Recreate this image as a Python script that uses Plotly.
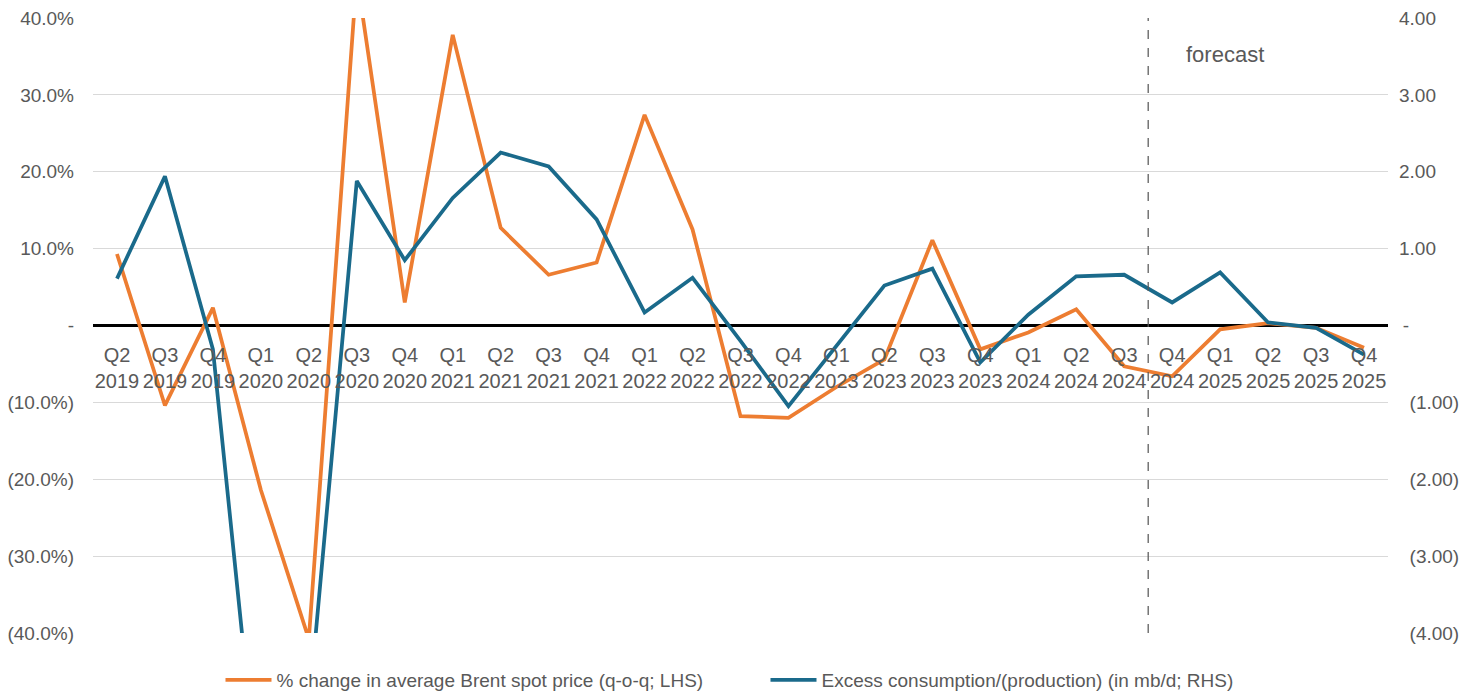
import plotly.graph_objects as go

# Quarters shown on the category axis
quarters = ["Q2", "Q3", "Q4",
            "Q1", "Q2", "Q3", "Q4",
            "Q1", "Q2", "Q3", "Q4",
            "Q1", "Q2", "Q3", "Q4",
            "Q1", "Q2", "Q3", "Q4",
            "Q1", "Q2", "Q3", "Q4",
            "Q1", "Q2", "Q3", "Q4"]
years = [2019, 2019, 2019,
         2020, 2020, 2020, 2020,
         2021, 2021, 2021, 2021,
         2022, 2022, 2022, 2022,
         2023, 2023, 2023, 2023,
         2024, 2024, 2024, 2024,
         2025, 2025, 2025, 2025]
categories = [f"{q} {y}" for q, y in zip(quarters, years)]
tick_labels = [f"{q}<br>{y}" for q, y in zip(quarters, years)]

# % change in average Brent spot price, quarter on quarter (left axis)
brent_pct_change = [9.3, -10.4, 2.3, -21.4, -40.8, 45.5, 3.0, 37.8, 12.7, 6.6,
                    8.2, 27.4, 12.5, -11.8, -12.0, -8.0, -4.4, 11.1, -3.1, -0.9,
                    2.1, -5.3, -6.6, -0.5, 0.3, -0.3, -2.9]

# Excess consumption / (production), mb/d (right axis)
excess_consumption = [0.61, 1.94, -0.31, -6.4, -5.0, 1.88, 0.85, 1.66, 2.25, 2.07,
                      1.38, 0.17, 0.62, -0.20, -1.05, -0.27, 0.52, 0.74, -0.48, 0.14,
                      0.64, 0.66, 0.30, 0.69, 0.04, -0.03, -0.38]

forecast_start = "Q4 2024"

left_ticks = [-40, -30, -20, -10, 0, 10, 20, 30, 40]
left_tick_text = ["(40.0%)", "(30.0%)", "(20.0%)", "(10.0%)", "-",
                  "10.0%", "20.0%", "30.0%", "40.0%"]
right_ticks = [-4, -3, -2, -1, 0, 1, 2, 3, 4]
right_tick_text = ["\u2007(4.00)", "\u2007(3.00)", "\u2007(2.00)",
                   "\u2007(1.00)", "\u2009-", "1.00", "2.00", "3.00", "4.00"]

ORANGE = "#ED7D31"
BLUE = "#1A6A8B"
GREY_TEXT = "#595959"
FONT = "Liberation Sans"

fig = go.Figure()
fig.add_trace(go.Scatter(
    x=categories, y=brent_pct_change, mode="lines",
    name="% change in average Brent spot price (q-o-q; LHS)",
    line=dict(color=ORANGE, width=3.75), yaxis="y",
))
fig.add_trace(go.Scatter(
    x=categories, y=excess_consumption, mode="lines",
    name="Excess consumption/(production) (in mb/d; RHS)",
    line=dict(color=BLUE, width=3.75), yaxis="y2",
))

# Divider between actuals and forecast
split = categories.index(forecast_start) - 0.5
fig.add_shape(type="line", xref="x", yref="paper", x0=split, x1=split, y0=0, y1=1,
              line=dict(color=GREY_TEXT, width=1.25, dash="dash"))
fig.add_annotation(text="forecast", xref="paper", yref="paper", x=0.8425, y=0.94,
                   xanchor="left", yanchor="middle", showarrow=False,
                   font=dict(family=FONT, size=22, color=GREY_TEXT))

fig.update_layout(
    width=1478, height=694,
    margin=dict(l=93, r=90, t=18, b=61, autoexpand=False),
    paper_bgcolor="white", plot_bgcolor="white",
    font=dict(family=FONT, size=19, color=GREY_TEXT),
    showlegend=True,
    legend=dict(orientation="h", x=0.5193, xanchor="center",
                yref="container", y=0.02, yanchor="middle",
                font=dict(family=FONT, size=19, color=GREY_TEXT),
                itemwidth=46, entrywidth=484, entrywidthmode="pixels"),
    xaxis=dict(type="category", tickvals=categories, ticktext=tick_labels,
               range=[-0.5, len(categories) - 0.5], automargin=False,
               anchor="free", position=0.5, showgrid=False, showline=False,
               ticks="", zeroline=False, ticklabelstandoff=15,
               tickfont=dict(family=FONT, size=20, color=GREY_TEXT)),
    yaxis=dict(range=[-40, 40], tickvals=left_ticks, ticktext=left_tick_text,
               showgrid=True, gridcolor="#D9D9D9", gridwidth=1, automargin=False,
               zeroline=True, zerolinecolor="black", zerolinewidth=2.5,
               showline=False, ticks="", ticklabelstandoff=18,
               tickfont=dict(family=FONT, size=19, color=GREY_TEXT)),
    yaxis2=dict(range=[-4, 4], tickvals=right_ticks, ticktext=right_tick_text,
                overlaying="y", side="right", showgrid=False, zeroline=False,
                showline=False, ticks="", ticklabelstandoff=10, automargin=False,
                tickfont=dict(family=FONT, size=19, color=GREY_TEXT)),
)

fig.write_html("out.html")
